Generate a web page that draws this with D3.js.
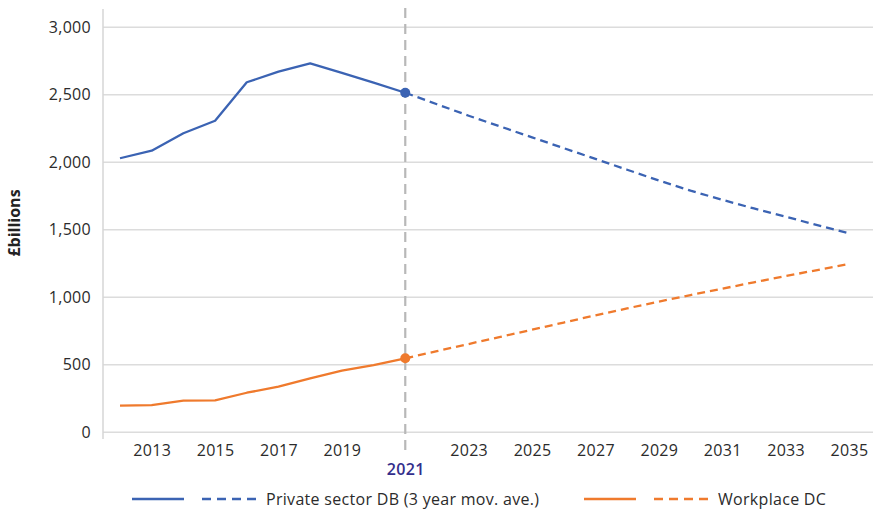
<!DOCTYPE html>
<html>
<head>
<meta charset="utf-8">
<script src="https://cdn.jsdelivr.net/npm/d3@7"></script>
<style>
  html, body { margin: 0; padding: 0; background: #ffffff; }
  svg { display: block; font-family: "Open Sans", "DejaVu Sans", sans-serif; }
</style>
</head>
<body>
<svg id="chart" width="873" height="511"></svg>
<script>
// Years on the category axis
const years = d3.range(2012, 2036);
const tickYears = [2013, 2015, 2017, 2019, 2021, 2023, 2025, 2027, 2029, 2031, 2033, 2035];
const splitYear = 2021;

// Private sector DB (3 year moving average), £bn
const dbValues = [2030, 2086, 2215, 2308, 2593, 2671, 2733, 2662, 2590, 2515,
                  2430, 2345, 2265, 2185, 2105, 2025, 1945, 1865, 1790, 1722,
                  1658, 1597, 1535, 1474];

// Workplace DC, £bn
const dcValues = [197, 202, 234, 237, 293, 338, 400, 456, 498, 548,
                  601, 654, 707, 760, 813, 866, 918, 968, 1017, 1064,
                  1111, 1157, 1202, 1247];

const yTicks = [0, 500, 1000, 1500, 2000, 2500, 3000];

const seriesNames = ["Private sector DB (3 year mov. ave.)", "Workplace DC"];
const seriesColors = ["#3b63b3", "#ef7a2d"];

const svg = d3.select("#chart");

const x = d3.scalePoint().domain(years).range([120, 849]);
const y = d3.scaleLinear().domain([0, 3000]).range([432.3, 27.3]);

const plotLeft = 103, plotRight = 873;
const labelFont = "'Open Sans', sans-serif";
const labelSize = 16;
const labelSpacing = "0.3px";

// Horizontal gridlines
svg.append("g")
  .selectAll("line")
  .data(yTicks)
  .join("line")
  .attr("x1", plotLeft).attr("x2", plotRight)
  .attr("y1", d => y(d)).attr("y2", d => y(d))
  .attr("stroke", "#dcdcdc")
  .attr("stroke-width", 1.5);

// Left axis rule
svg.append("line")
  .attr("x1", plotLeft).attr("x2", plotLeft)
  .attr("y1", 9).attr("y2", 439)
  .attr("stroke", "#d6d6d6")
  .attr("stroke-width", 1.5);

// Y axis labels
const yAxis = d3.axisLeft(y).tickValues(yTicks).tickSize(0).tickPadding(0)
  .tickFormat(d3.format(","));
const gy = svg.append("g").attr("transform", "translate(91,0)").call(yAxis);
gy.select(".domain").remove();
gy.selectAll("text")
  .attr("font-size", labelSize)
  .attr("font-family", labelFont)
  .attr("letter-spacing", labelSpacing)
  .attr("fill", "#2b2b2b");

// Y axis title
svg.append("text")
  .attr("transform", "translate(20,223) rotate(-90)")
  .attr("text-anchor", "middle")
  .attr("font-size", 16)
  .attr("font-weight", 700)
  .attr("fill", "#222")
  .text("£billions");

// X axis labels
const xAxis = d3.axisBottom(x).tickValues(tickYears).tickSize(0).tickPadding(0);
const gx = svg.append("g").attr("transform", "translate(0,445)").call(xAxis);
gx.select(".domain").remove();
gx.selectAll("text")
  .attr("font-size", labelSize)
  .attr("font-family", labelFont)
  .attr("letter-spacing", labelSpacing)
  .attr("fill", "#2b2b2b");
gx.selectAll(".tick")
  .filter(d => d === splitYear)
  .select("text")
  .attr("dy", "1.85em")
  .attr("font-weight", 600)
  .attr("fill", "#332e8c");

// Vertical marker at the split year
svg.append("line")
  .attr("x1", x(splitYear)).attr("x2", x(splitYear))
  .attr("y1", 8).attr("y2", 455)
  .attr("stroke", "#b8b8b8")
  .attr("stroke-width", 2.2)
  .attr("stroke-dasharray", "10,6");

const line = d3.line().x(d => x(d.year)).y(d => y(d.value));

function drawSeries(values, color) {
  const pts = years.map((yr, i) => ({ year: yr, value: values[i] }));
  const hist = pts.filter(p => p.year <= splitYear);
  const proj = pts.filter(p => p.year >= splitYear);
  svg.append("path").datum(hist)
    .attr("d", line).attr("fill", "none")
    .attr("stroke", color).attr("stroke-width", 2.3)
    .attr("stroke-linejoin", "round");
  svg.append("path").datum(proj)
    .attr("d", line).attr("fill", "none")
    .attr("stroke", color).attr("stroke-width", 2.3)
    .attr("stroke-dasharray", "8,5");
  const last = hist[hist.length - 1];
  svg.append("circle")
    .attr("cx", x(last.year)).attr("cy", y(last.value))
    .attr("r", 5).attr("fill", color);
}

drawSeries(dbValues, seriesColors[0]);
drawSeries(dcValues, seriesColors[1]);

// Legend
const legendY = 499;
const legendItems = [
  { name: seriesNames[0], color: seriesColors[0], x: 132 },
  { name: seriesNames[1], color: seriesColors[1], x: 584 }
];
legendItems.forEach(item => {
  const g = svg.append("g").attr("transform", `translate(${item.x},${legendY})`);
  g.append("line").attr("x1", 0).attr("x2", 52).attr("y1", 0).attr("y2", 0)
    .attr("stroke", item.color).attr("stroke-width", 2.5);
  g.append("line").attr("x1", 70).attr("x2", 125).attr("y1", 0).attr("y2", 0)
    .attr("stroke", item.color).attr("stroke-width", 2.5)
    .attr("stroke-dasharray", "9,6");
  g.append("text").attr("x", 134).attr("y", 0).attr("dy", "0.35em")
    .attr("font-size", labelSize).attr("letter-spacing", labelSpacing)
    .attr("fill", "#2b2b2b")
    .text(item.name);
});
</script>
</body>
</html>
